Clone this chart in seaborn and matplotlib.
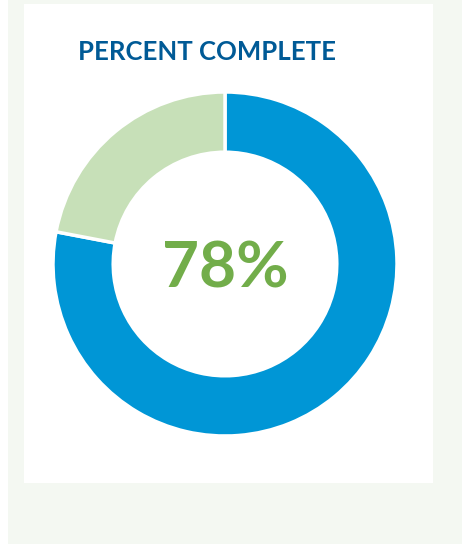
import matplotlib
matplotlib.use("Agg")
import matplotlib.pyplot as plt
import seaborn as sns
from matplotlib.patches import Rectangle

# Data
labels = ["Complete", "Remaining"]
values = [78, 22]
colors = ["#0096d6", "#c7e0b8"]
title = "PERCENT COMPLETE"
center_label = "78%"

sns.set_theme(style="white")
plt.rcParams['font.family'] = ['Lato', 'DejaVu Sans']

W, H = 462, 544
fig = plt.figure(figsize=(W / 100, H / 100), dpi=100)
fig.patch.set_facecolor("white")

def px_rect(x0, y0, x1, y1, color):
    fig.patches.append(Rectangle((x0 / W, 1 - y1 / H), (x1 - x0) / W, (y1 - y0) / H,
                                 transform=fig.transFigure, facecolor=color,
                                 edgecolor="none", zorder=-10))

px_rect(8, 0, 462, 544, "#f4f8f2")
px_rect(24, 4, 433, 483, "white")

cx, cy, r = 225, 264, 172
ax = fig.add_axes([(cx - r) / W, 1 - (cy + r) / H, 2 * r / W, 2 * r / H])
ax.set_zorder(5)
ax.set_facecolor("none")
ax.pie(values, colors=colors, startangle=90, counterclock=False, radius=1,
       wedgeprops=dict(width=0.35, edgecolor="white", linewidth=2.5))
ax.set_xlim(-1, 1)
ax.set_ylim(-1, 1)
ax.set_axis_off()
ax.text(0, -0.03, center_label, ha="center", va="center", fontsize=46,
        fontweight="bold", color="#72ad4a")

fig.text(78 / W, 1 - 52 / H, title, ha="left", va="center", fontsize=18.5,
         fontweight="bold", color="#005a96")

fig.savefig("out.png", dpi=100, facecolor=fig.get_facecolor())
